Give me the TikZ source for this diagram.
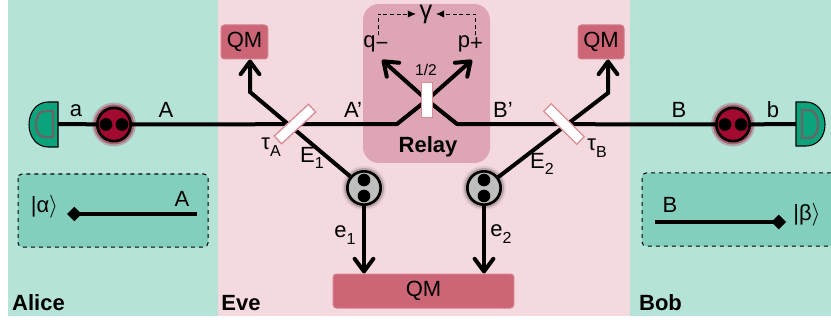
\documentclass[tikz,border=0pt]{standalone}
\usepackage{fontspec}
\setmainfont{Liberation Sans}
\usetikzlibrary{arrows.meta}
\definecolor{sidegreen}{HTML}{B5E3D7}
\definecolor{boxgreen}{HTML}{81CFBC}
\definecolor{evepink}{HTML}{F4DADF}
\definecolor{relaypink}{HTML}{DEA5B4}
\definecolor{qmred}{HTML}{CC6676}
\definecolor{detgreen}{HTML}{0AA37C}
\definecolor{statered}{HTML}{A30A30}
\definecolor{stategrey}{HTML}{BEBEBE}
\newcommand{\lowidx}[1]{\raisebox{-5pt}{\fontsize{12}{12}\selectfont #1}}
\tikzset{every picture/.style={line width=0.75pt},
  lab/.style={inner sep=0pt,font=\fontsize{16.5}{18}\selectfont},
  bold lab/.style={lab,font=\fontsize{16.5}{18}\selectfont\bfseries},
  qmbox/.style={lab,fill=qmred,draw=qmred!85!white,rounded corners=2.5pt,anchor=center},
  beam/.style={line width=3pt,black},
  arrowbeam/.style={beam,-{Straight Barb[length=9.5pt,width=14pt,line width=3pt,round]},line join=miter},
  splitter/.style={fill=white,draw=qmred!75!white,line width=1pt,inner sep=0pt},
  state/.style={circle,draw=black,line width=2pt,minimum size=25pt,inner sep=0pt},
  dot/.style={circle,fill=black,inner sep=0pt,minimum size=9.5pt},
  detector/.style={fill=detgreen,draw=black,line width=0.8pt},
  detcore/.style={draw=black!60,line width=1.8pt},
  statebox/.style={draw=black,dashed,rounded corners=3pt,line width=0.75pt},
  dashlink/.style={densely dashed,line width=0.6pt,shorten >=2.5pt,-{Latex[length=6pt,width=5.5pt]}},
  dia/.style={-{Diamond[length=11pt,width=11pt]},line width=2.8pt}}

\begin{document}
\begin{tikzpicture}[x=0.75pt,y=0.75pt,yscale=-1,xscale=1]
\useasboundingbox (0,0) rectangle (831,324);

% Backgrounds
\fill [sidegreen] (8,0) rectangle (218,316);
\fill [evepink] (218,0) rectangle (630,316);
\fill [sidegreen] (630,0) rectangle (831,316);
\fill [relaypink,rounded corners=12pt] (363,4) rectangle (490,163);
\draw [statebox,fill=boxgreen] (18,174) rectangle (208,247);
\fill [boxgreen,rounded corners=3pt] (642,173) rectangle (840,246);
\draw [statebox] (831,173) -- (642,173) -- (642,246) -- (831,246);

% Text Node
\node (qmA) at (244.5,42) [qmbox,minimum width=35pt,minimum height=25.5pt] {QM};
\node (qmB) at (601,42) [qmbox,minimum width=34.5pt,minimum height=25.5pt] {QM};
\node (qmE) at (423.5,291) [qmbox,minimum width=135.5pt,minimum height=25.5pt] {QM};
\node (relay) at (428,147) [bold lab] {Relay};
\node (alice) at (38.5,303) [bold lab] {Alice};
\node (eve) at (241,303) [bold lab] {Eve};
\node (bob) at (660.5,303) [bold lab] {Bob};
\node (la) at (76,111) [lab] {a};
\node (lA) at (166,110) [lab] {A};
\node (lb) at (773,110) [lab] {b};
\node (lB) at (679,110) [lab] {B};
\node (lAp) at (353,110) [lab] {A’};
\node (lBp) at (503,110) [lab] {B’};
\node (tauA) at (271,147) [lab] {τ\lowidx{A}};
\node (tauB) at (597,148) [lab] {τ\lowidx{B}};
\node (lE1) at (312,158) [lab] {E\lowidx{1}};
\node (lE2) at (542,164) [lab] {E\lowidx{2}};
\node (le1) at (345,235) [lab] {e\lowidx{1}};
\node (le2) at (501,234) [lab] {e\lowidx{2}};
\node (half) at (426,70) [lab,font=\fontsize{11.7}{12}\selectfont] {1/2};
\node (gamma) at (426,14) [lab,font=\fontsize{19}{20}\selectfont] {γ};
\node (qminus) at (376,44) [lab] {q\raisebox{-2pt}{−}};
\node (pplus) at (470.5,44) [lab] {p\raisebox{-2pt}{+}};
\node (ketA) at (44.5,207) [lab] {|α$\rangle$};
\node (ketB) at (807,215) [lab] {|β$\rangle$};
\node (boxA) at (182,199) [lab] {A};
\node (boxB) at (670,205) [lab] {B};

% Free ends
\coordinate (detA) at (58,124);
\coordinate (detB) at (796,124);
\coordinate (kneeA) at (250,92);
\coordinate (kneeB) at (608,93);
\coordinate (kneeL) at (397,124);
\coordinate (kneeR) at (457,124);
\coordinate (tipL) at (382,60);
\coordinate (tipR) at (472,60);
\coordinate (midBS) at (427,100);
\coordinate (lineAa) at (197,214);
\coordinate (lineAb) at (67,214);
\coordinate (lineBa) at (655,222);
\coordinate (lineBb) at (786,222);

% State halos
\fill [statered,opacity=0.25] (114,124.5) circle [radius=22];
\fill [statered,opacity=0.45] (114,124.5) circle [radius=20];
\fill [statered,opacity=0.25] (733,124.5) circle [radius=22];
\fill [statered,opacity=0.45] (733,124.5) circle [radius=20];
\fill [black,opacity=0.08] (364,188) circle [radius=22];
\fill [black,opacity=0.18] (364,188) circle [radius=20];
\fill [black,opacity=0.08] (484,188) circle [radius=22];
\fill [black,opacity=0.18] (484,188) circle [radius=20];

% States
\node (stA) at (114,124.5) [state,fill=statered] {};
\node (stB) at (733,124.5) [state,fill=statered] {};
\node (stE1) at (364,188) [state,fill=stategrey] {};
\node (stE2) at (484,188) [state,fill=stategrey] {};
\node (dotA1) at (106,124.5) [dot] {};
\node (dotA2) at (122,124.5) [dot] {};
\node (dotB1) at (725,124.5) [dot] {};
\node (dotB2) at (741,124.5) [dot] {};
\node (dotE1a) at (364,180) [dot] {};
\node (dotE1b) at (364,196) [dot] {};
\node (dotE2a) at (484,180) [dot] {};
\node (dotE2b) at (484,196) [dot] {};

% Connection
\draw [beam] (detA) -- (stA);
\draw [beam] (stA) -- (kneeL) -- (midBS);
\draw [arrowbeam] (midBS) -- (tipR);
\draw [beam] (stB) -- (kneeR) -- (midBS);
\draw [arrowbeam] (midBS) -- (tipL);
\draw [beam] (detB) -- (stB);
\draw [arrowbeam] (stE1) -- (kneeA) -- (kneeA |- qmA.south);
\draw [arrowbeam] (stE2) -- (kneeB) -- (kneeB |- qmB.south);
\draw [arrowbeam] (stE1) -- (stE1 |- qmE.north);
\draw [arrowbeam] (stE2) -- (stE2 |- qmE.north);
\draw [dashlink] (qminus.north) ++(2,0) |- (gamma.west);
\draw [dashlink] (pplus.north) ++(5,0) |- (gamma.east);
\draw [dia] (lineAa) -- (lineAb);
\draw [dia] (lineBa) -- (lineBb);

% Beam splitters
\node (bsA) at (295,124) [splitter,rotate=43,minimum width=35pt,minimum height=8pt] {};
\node (bsB) at (564,124) [splitter,rotate=-45,minimum width=35pt,minimum height=8pt] {};
\node (bsR) at (427,100) [splitter,minimum width=8pt,minimum height=26pt] {};

% Detectors
\draw [detector] (58,102) -- (48,102) .. controls (37,102) and (29,112) .. (29,124.5) .. controls (29,137) and (37,147) .. (48,147) -- (58,147) -- cycle;
\draw [detcore] (53,111) -- (45,111) .. controls (39,111) and (36,117) .. (36,124.5) .. controls (36,132) and (39,137) .. (45,137) -- (53,137) -- cycle;
\draw [detector] (796,102) -- (806,102) .. controls (817,102) and (825,112) .. (825,124.5) .. controls (825,137) and (817,146) .. (806,146) -- (796,146) -- cycle;
\draw [detcore] (802,110) -- (809,110) .. controls (815,110) and (818,117) .. (818,124.5) .. controls (818,132) and (815,138) .. (809,138) -- (802,138) -- cycle;

\end{tikzpicture}
\end{document}
